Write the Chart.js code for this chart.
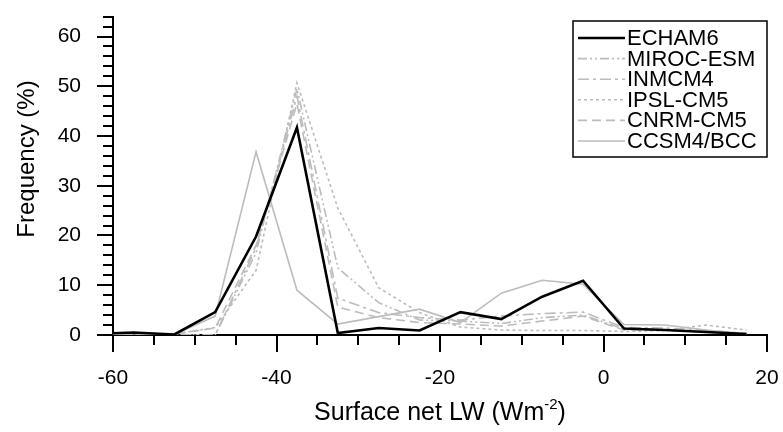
<!DOCTYPE html>
<html>
<head>
<meta charset="utf-8">
<script src="https://cdn.jsdelivr.net/npm/chart.js@4.4.1/dist/chart.umd.min.js"></script>
<style>
  body { margin: 0; background: #fff; }
  #wrap { width: 783px; height: 432px; }
</style>
</head>
<body>
<div id="wrap"><canvas id="histo" width="783" height="432"></canvas></div>
<script>
"use strict";

// bin centres (Wm-2), first one sits left of the axis and gets clipped
const binCentres = [-62.5, -57.5, -52.5, -47.5, -42.5, -37.5, -32.5, -27.5, -22.5, -17.5, -12.5, -7.5, -2.5, 2.5, 7.5, 12.5, 17.5];

// frequency (%)
const echam6   = [0.2, 0.5, 0.1, 4.6, 19.8, 41.7, 0.4, 1.4, 0.9, 4.6, 3.2, 7.7, 10.9, 1.3, 1.0, 0.6, 0.2];
const mirocEsm = [0.1, 0.2, 0.1, 0.0, 16.5, 49.5, 13.5, 6.5, 3.0, 2.8, 2.3, 3.5, 4.0, 1.2, 1.0, 0.8, 0.3];
const inmcm4   = [0.1, 0.1, 0.1, 0.0, 17.5, 48.0, 7.4, 4.5, 3.5, 3.0, 3.8, 4.3, 4.6, 1.5, 1.4, 1.0, 0.3];
const ipslCm5  = [0.2, 0.3, 0.2, 1.5, 13.0, 50.7, 25.5, 9.5, 4.5, 1.6, 1.0, 0.9, 0.9, 0.7, 0.9, 2.0, 1.0];
const cnrmCm5  = [0.1, 0.2, 0.2, 1.4, 18.0, 46.5, 5.6, 3.5, 2.5, 2.2, 1.8, 2.8, 3.8, 1.0, 1.0, 0.7, 0.2];
const ccsm4Bcc = [0.1, 0.3, 0.1, 3.8, 36.8, 9.0, 2.2, 3.7, 5.2, 2.5, 8.4, 11.0, 10.2, 2.1, 2.0, 1.0, 0.2];

const seriesNames = ["ECHAM6", "MIROC-ESM", "INMCM4", "IPSL-CM5", "CNRM-CM5", "CCSM4/BCC"];

const xTickLabels = [-60, -40, -20, 0, 20];
const yTickLabels = [0, 10, 20, 30, 40, 50, 60];

const grey = "#bcbcbc";
const fontFamily = "'Liberation Sans', Arial, Helvetica, sans-serif";

function toPoints(values) {
    return binCentres.map((x, i) => ({ x: x, y: values[i] }));
}

const styles = [
    { color: "#000", width: 2.6, dash: [] },
    { color: grey, width: 1.6, dash: [9, 3, 2, 3, 2, 3] },
    { color: grey, width: 1.6, dash: [11, 4, 3, 4] },
    { color: grey, width: 1.6, dash: [3, 3] },
    { color: grey, width: 1.6, dash: [9, 5] },
    { color: grey, width: 1.6, dash: [] },
];

const allSeries = [echam6, mirocEsm, inmcm4, ipslCm5, cnrmCm5, ccsm4Bcc];

const datasets = allSeries.map((values, i) => ({
    label: seriesNames[i],
    data: toPoints(values),
    borderColor: styles[i].color,
    borderWidth: styles[i].width,
    borderDash: styles[i].dash,
    pointRadius: 0,
    tension: 0,
    fill: false,
}));

/**
 * Tick marks (major + minor, outward) and axis titles
 */
const axisDecor = {
    id: "axisDecor",
    afterDraw(chart) {
        const ctx = chart.ctx;
        const area = chart.chartArea;
        const xs = chart.scales.x;
        const ys = chart.scales.y;

        ctx.save();
        ctx.strokeStyle = "#000";
        ctx.lineWidth = 2;
        ctx.beginPath();
        for (let v = -60; v <= 20; v += 5) {
            const px = Math.round(xs.getPixelForValue(v));
            const len = xTickLabels.includes(v) ? 17 : 10;
            ctx.moveTo(px, area.bottom);
            ctx.lineTo(px, area.bottom + len);
        }
        for (let v = 0; v <= 64; v += 2) {
            const py = Math.round(ys.getPixelForValue(v));
            const len = yTickLabels.includes(v) ? 16 : 10;
            ctx.moveTo(area.left, py);
            ctx.lineTo(area.left - len, py);
        }
        ctx.stroke();

        ctx.fillStyle = "#000";

        // y title
        ctx.save();
        ctx.translate(34, 159);
        ctx.rotate(-Math.PI / 2);
        ctx.font = "24px " + fontFamily;
        ctx.textAlign = "center";
        ctx.textBaseline = "alphabetic";
        ctx.fillText("Frequency (%)", 0, 0);
        ctx.restore();

        // x title with superscript
        const main = "Surface net LW (Wm";
        const sup = "-2";
        const tail = ")";
        ctx.font = "25px " + fontFamily;
        const wMain = ctx.measureText(main).width;
        const wTail = ctx.measureText(tail).width;
        ctx.font = "15px " + fontFamily;
        const wSup = ctx.measureText(sup).width;
        const total = wMain + wSup + wTail;
        let x0 = (area.left + area.right) / 2 - total / 2;
        const base = 420;
        ctx.textAlign = "left";
        ctx.textBaseline = "alphabetic";
        ctx.font = "25px " + fontFamily;
        ctx.fillText(main, x0, base);
        ctx.font = "15px " + fontFamily;
        ctx.fillText(sup, x0 + wMain, base - 11);
        ctx.font = "25px " + fontFamily;
        ctx.fillText(tail, x0 + wMain + wSup, base);
        ctx.restore();
    },
};

/**
 * Boxed legend, top right
 */
const boxLegend = {
    id: "boxLegend",
    afterDraw(chart) {
        const ctx = chart.ctx;
        ctx.save();
        ctx.fillStyle = "#fff";
        ctx.fillRect(573, 21, 194, 136);
        ctx.strokeStyle = "#000";
        ctx.lineWidth = 1.5;
        ctx.setLineDash([]);
        ctx.strokeRect(573, 21, 194, 136);

        ctx.font = "22px " + fontFamily;
        ctx.textAlign = "left";
        ctx.textBaseline = "middle";
        chart.data.datasets.forEach((ds, i) => {
            const y = 38 + i * 20.6;
            ctx.strokeStyle = ds.borderColor;
            ctx.lineWidth = ds.borderWidth;
            ctx.setLineDash(ds.borderDash);
            ctx.beginPath();
            ctx.moveTo(578, y);
            ctx.lineTo(625, y);
            ctx.stroke();
            ctx.setLineDash([]);
            ctx.fillStyle = "#000";
            ctx.fillText(ds.label, 627, y + 1);
        });
        ctx.restore();
    },
};

const chart = new Chart(document.querySelector("#histo"), {
    type: "line",
    data: { datasets: datasets },
    options: {
        responsive: false,
        animation: false,
        layout: { padding: { top: 12, right: 16, left: 0, bottom: 0 } },
        plugins: {
            legend: { display: false },
            tooltip: { enabled: false },
        },
        scales: {
            x: {
                type: "linear",
                min: -60,
                max: 20,
                afterFit: (scale) => { scale.height = 97; },
                grid: { display: false, drawTicks: true, tickLength: 27 },
                border: { display: true, color: "#000", width: 2 },
                ticks: {
                    stepSize: 5,
                    autoSkip: false,
                    maxRotation: 0,
                    padding: 4,
                    color: "#000",
                    font: { size: 21, family: fontFamily },
                    callback: (v) => (xTickLabels.includes(v) ? String(v) : ""),
                },
            },
            y: {
                min: 0,
                max: 64,
                afterFit: (scale) => { scale.width = 113; },
                grid: { display: false, drawTicks: true, tickLength: 28 },
                border: { display: true, color: "#000", width: 2 },
                ticks: {
                    stepSize: 2,
                    autoSkip: false,
                    padding: 4,
                    color: "#000",
                    font: { size: 21, family: fontFamily },
                    callback: (v) => (yTickLabels.includes(v) ? String(v) : ""),
                },
            },
        },
    },
    plugins: [axisDecor, boxLegend],
});
</script>
</body>
</html>
